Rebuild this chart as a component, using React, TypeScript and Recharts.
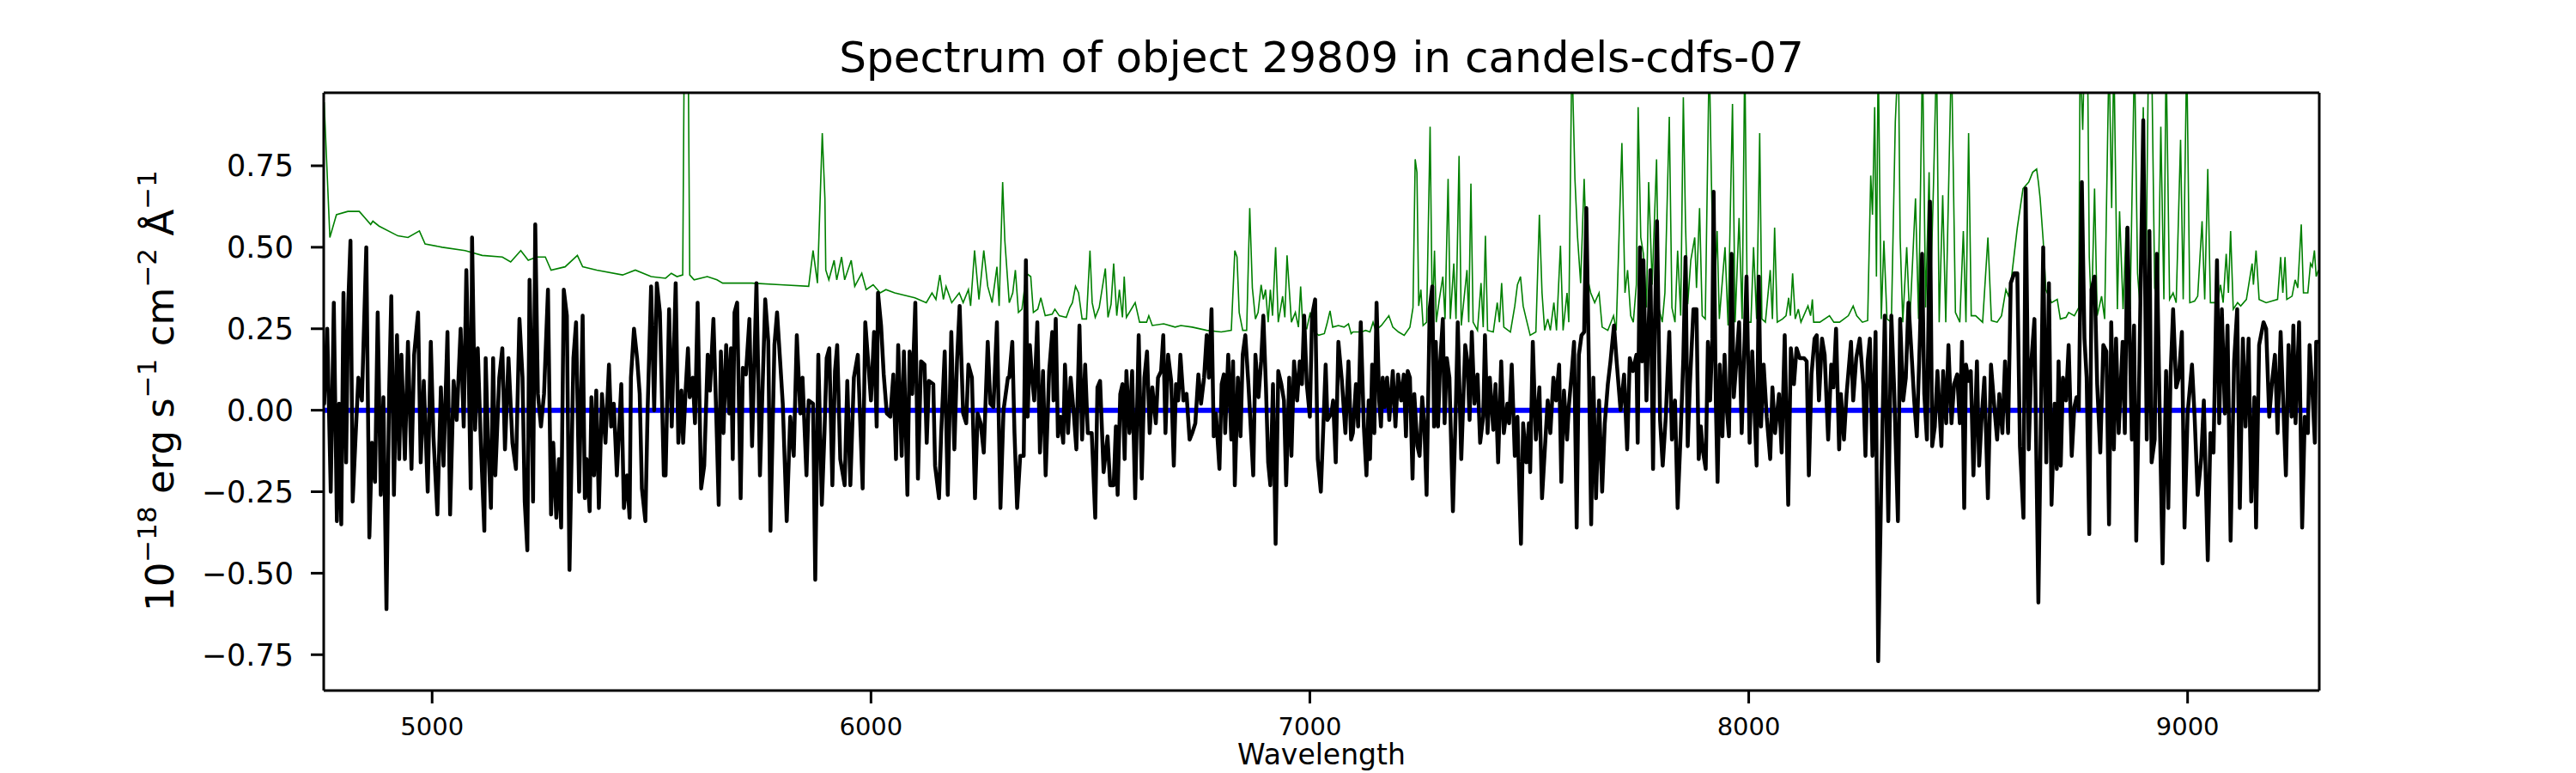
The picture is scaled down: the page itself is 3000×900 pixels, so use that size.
import { LineChart, Line, XAxis, YAxis, ReferenceLine } from "recharts";

const TITLE = "Spectrum of object 29809 in candels-cdfs-07";
const X_LABEL = "Wavelength";

const X_DOMAIN = [4753, 9300];
const Y_DOMAIN = [-0.86, 0.974];
const xTicks = [5000, 6000, 7000, 8000, 9000];
const yTicks = [-0.75, -0.5, -0.25, 0, 0.25, 0.5, 0.75];

// observed 1D spectrum (black)
const fluxWave = [
  4753, 4754, 4761, 4769, 4776, 4783, 4788, 4793, 4798, 4804, 4809, 4814, 4819, 4826, 4832, 4840, 4850, 4857, 4863, 4870,
  4876, 4883, 4889, 4896, 4902, 4907, 4913, 4920, 4925, 4930, 4938, 4945, 4953, 4959, 4968, 4974, 4981, 4990, 4997, 5003,
  5012, 5020, 5026, 5035, 5041, 5049, 5056, 5065, 5072, 5078, 5083, 5088, 5091, 5098, 5104, 5111, 5119, 5122, 5127, 5134,
  5139, 5144, 5153, 5160, 5166, 5174, 5183, 5191, 5199, 5206, 5211, 5217, 5222, 5225, 5230, 5235, 5241, 5248, 5255, 5264,
  5271, 5276, 5283, 5289, 5294, 5300, 5307, 5313, 5317, 5322, 5328, 5335, 5343, 5348, 5352, 5359, 5363, 5369, 5374, 5380,
  5387, 5395, 5403, 5408, 5414, 5421, 5431, 5437, 5444, 5450, 5453, 5460, 5467, 5473, 5478, 5486, 5491, 5499, 5506, 5512,
  5519, 5528,
  5532, 5540, 5546, 5555, 5561, 5568, 5572, 5578, 5583, 5587, 5594, 5599, 5605, 5613, 5620, 5628, 5633, 5641, 5648, 5653,
  5658, 5664, 5670, 5677, 5681, 5685, 5689, 5695, 5703, 5708, 5715, 5723, 5729, 5739, 5744, 5747, 5759, 5766, 5771, 5780,
  5786, 5793, 5799, 5808, 5816, 5824, 5831, 5839, 5844, 5853, 5858, 5868, 5873, 5880, 5888, 5894, 5899, 5905, 5912, 5918,
  5923, 5930, 5940, 5946, 5953, 5961, 5970, 5981, 5987, 5993, 6000, 6007, 6013, 6016, 6023, 6029, 6036, 6044, 6051, 6057,
  6062, 6070, 6075, 6083, 6088, 6094, 6101, 6107, 6114, 6122, 6127, 6132, 6142, 6146, 6155, 6160, 6168, 6175, 6183, 6190,
  6196, 6202, 6210, 6217, 6222, 6230, 6237, 6243, 6250, 6257, 6266, 6272, 6279, 6287, 6295, 6302, 6312,
  6315, 6322, 6327, 6333, 6340, 6348, 6353, 6357, 6362, 6367, 6372, 6379, 6385, 6392, 6398, 6406, 6413, 6416, 6421, 6426,
  6432, 6438, 6442, 6449, 6455, 6462, 6468, 6475, 6481, 6488, 6494, 6503, 6511, 6516, 6522, 6530, 6539, 6545, 6553, 6558,
  6562, 6568, 6573, 6578, 6582, 6589, 6595, 6602, 6610, 6617, 6623, 6629, 6635, 6641, 6649, 6654, 6661, 6666, 6671, 6677,
  6684, 6690, 6695, 6700, 6705, 6712, 6719, 6726, 6732, 6739, 6746, 6752, 6759, 6765, 6770, 6776, 6781, 6786, 6794, 6799,
  6804, 6807, 6814, 6821, 6825, 6829, 6836, 6842, 6847, 6853, 6860, 6864, 6871, 6876, 6883, 6889, 6894, 6900, 6905, 6910,
  6916, 6922, 6928, 6935, 6941, 6946, 6953, 6958, 6964, 6971, 6977, 6982, 6987, 6993, 7000, 7005, 7012, 7018, 7025, 7031,
  7036, 7040, 7049, 7053, 7059, 7065, 7073, 7081, 7088, 7094,
  7098, 7105, 7110, 7116, 7123, 7129, 7134, 7137, 7142, 7147, 7152, 7158, 7162, 7166, 7171, 7176, 7181, 7189, 7195, 7201,
  7208, 7214, 7219, 7223, 7228, 7234, 7238, 7245, 7250, 7256, 7261, 7266, 7273, 7279, 7283, 7287, 7292, 7297, 7303, 7307,
  7312, 7318, 7326, 7333, 7337, 7345, 7354, 7359, 7364, 7369, 7375, 7382, 7388, 7395, 7399, 7405, 7410, 7418, 7423, 7429,
  7436, 7442, 7450, 7454, 7460, 7467, 7473, 7476, 7481, 7486, 7493, 7499, 7502, 7508, 7515, 7523, 7529, 7535, 7542, 7548,
  7555, 7561, 7568, 7573, 7579, 7586, 7590, 7597, 7602, 7608, 7613, 7619, 7625, 7630, 7636, 7641, 7646, 7652, 7659, 7666,
  7672, 7679, 7685, 7693, 7699, 7708, 7716, 7723, 7729, 7736, 7744, 7747, 7752, 7757, 7760, 7767, 7770, 7776, 7782, 7786,
  7791, 7798, 7804, 7811, 7819, 7825, 7832, 7838, 7845, 7851, 7856, 7861, 7866, 7874,
  7881, 7886, 7891, 7895, 7902, 7907, 7912, 7917, 7920, 7925, 7929, 7934, 7940, 7945, 7949, 7955, 7961, 7966, 7972, 7978,
  7984, 7989, 7995, 8002, 8008, 8018, 8023, 8028, 8034, 8041, 8049, 8054, 8060, 8069, 8075, 8082, 8090, 8096, 8103, 8109,
  8116, 8126, 8132, 8137, 8143, 8150, 8155, 8160, 8167, 8173, 8181, 8188, 8193, 8199, 8206, 8210, 8217, 8223, 8233, 8238,
  8245, 8253, 8261, 8266, 8271, 8276, 8282, 8289, 8295, 8302, 8310, 8318, 8325, 8331, 8340, 8345, 8352, 8358, 8364, 8372,
  8377, 8383, 8390, 8395, 8400, 8406, 8413, 8418, 8424, 8430, 8439, 8443, 8450, 8455, 8462, 8468, 8475, 8481, 8486, 8491,
  8495, 8501, 8506, 8512, 8520, 8525, 8530, 8537, 8545, 8552, 8559, 8566, 8571, 8578, 8584, 8591, 8597, 8605, 8612, 8618,
  8626, 8631, 8638, 8644, 8651, 8660,
  8671, 8678, 8684, 8690, 8697, 8702, 8706, 8711, 8716, 8723, 8729, 8736, 8742, 8747, 8752, 8759, 8765, 8770, 8776, 8781,
  8788, 8794, 8801, 8808, 8815, 8821, 8826, 8832, 8837, 8843, 8852, 8857, 8863, 8873, 8878, 8883, 8889, 8899, 8907, 8913,
  8918, 8925, 8930, 8937, 8943, 8951, 8956, 8961, 8967, 8974, 8980, 8987, 8993, 9000, 9010, 9016, 9023, 9031, 9037, 9046,
  9052, 9059, 9067, 9072, 9078, 9085, 9091, 9098, 9106, 9113, 9119, 9126, 9132, 9139, 9145, 9152, 9156, 9163, 9173, 9179,
  9186, 9192, 9199, 9205, 9212, 9224, 9230, 9237, 9241, 9246, 9254, 9261, 9267, 9274, 9278, 9285, 9290, 9293, 9298,
];
const fluxValue = [
  0.05, 0.02, 0.25, -0.25, 0.33, -0.34, 0.02, -0.35, 0.36, -0.16, 0.33, 0.52, -0.28, -0.07, 0.1, 0.03, 0.5, -0.39, -0.1, -0.22,
  0.3, -0.26, 0.04, -0.61, 0.05, 0.35, -0.26, 0.23, -0.15, 0.17, -0.15, 0.21, -0.18, 0.17, 0.3, -0.16, 0.09, -0.25, 0.21, -0.08,
  -0.32, 0.07, -0.17, 0.24, -0.32, 0.09, -0.03, 0.25, -0.05, 0.43, 0.14, -0.24, 0.53, -0.06, 0.19, -0.1, -0.37, 0.16, -0.08, -0.3,
  0.16, -0.2, 0.1, 0.19, -0.12, 0.16, -0.1, -0.18, 0.28, 0.1, -0.28, -0.43, 0.4, 0.2, -0.28, 0.57, 0.05, -0.05, 0.05, 0.37,
  -0.32, -0.1, -0.33, -0.15, -0.36, 0.37, 0.29, -0.49, -0.2, 0.16, 0.27, -0.25, 0.29, -0.27, -0.15, -0.31, 0.04, -0.2, 0.06, -0.3,
  0.05, -0.1, 0.14, -0.05, 0.02, -0.2, 0.08, -0.3, -0.2, -0.33, 0.1, 0.25, 0.16, 0.05, -0.24, -0.34, 0.0, 0.38, 0.0, 0.39,
  0.3, -0.2,
  -0.2, 0.31, -0.05, 0.39, -0.1, 0.06, -0.1, 0.07, 0.19, 0.04, 0.1, -0.04, 0.33, -0.24, -0.17, 0.17, 0.06, 0.28, -0.04, -0.29,
  0.18, -0.07, 0.2, -0.01, 0.19, -0.15, 0.3, 0.33, -0.27, 0.13, 0.11, 0.28, -0.11, 0.39, 0.05, -0.2, 0.34, 0.21, -0.37, 0.2,
  0.3, 0.15, 0.02, -0.34, -0.02, -0.14, 0.23, -0.01, 0.1, -0.2, 0.03, 0.02, -0.52, 0.17, -0.29, -0.07, 0.16, 0.19, -0.23, 0.12,
  0.2, -0.15, -0.23, 0.09, -0.23, 0.1, 0.17, -0.24, 0.27, 0.16, 0.03, 0.24, -0.05, 0.36, 0.26, 0.11, -0.01, -0.02, 0.11, -0.15,
  0.2, -0.14, 0.18, -0.26, 0.18, 0.05, 0.33, -0.21, 0.15, 0.14, -0.1, 0.09, 0.08, -0.17, -0.27, -0.07, 0.18, -0.26, 0.24, -0.12,
  0.15, 0.32, -0.01, -0.04, 0.14, 0.1, -0.27, -0.01, -0.04, -0.13, 0.21, 0.02, 0.01, 0.27, -0.3, 0.0, 0.1,
  0.1, 0.21, -0.07, -0.3, -0.14, -0.14, 0.46, -0.02, 0.2, 0.1, 0.03, 0.27, -0.13, 0.12, -0.2, 0.12, 0.24, 0.03, 0.28, -0.08,
  -0.02, -0.1, 0.14, -0.07, 0.1, -0.01, -0.12, 0.26, -0.09, 0.14, -0.07, -0.07, -0.33, 0.07, 0.09, -0.19, -0.08, -0.23, -0.23, -0.05,
  -0.26, 0.05, 0.08, -0.15, 0.12, -0.07, 0.12, -0.27, 0.23, -0.21, 0.1, 0.18, -0.07, 0.07, -0.04, 0.1, 0.12, 0.23, -0.07, 0.17,
  0.09, -0.17, 0.08, 0.03, 0.17, 0.03, 0.05, -0.09, -0.07, -0.04, 0.11, 0.02, 0.1, 0.23, 0.1, 0.31, -0.08, -0.01, -0.18, 0.08,
  0.11, -0.07, 0.17, -0.09, 0.15, -0.23, 0.1, -0.08, 0.17, 0.23, 0.08, -0.02, -0.2, 0.17, 0.04, 0.15, 0.29, 0.07, -0.16, -0.23,
  0.08, -0.41, 0.12, 0.08, 0.03, -0.23, 0.1, -0.14, 0.15, 0.03, 0.15, 0.08, 0.29, 0.08, -0.02, 0.29, 0.34, -0.15, -0.25, -0.04,
  0.14, -0.03, -0.01, 0.03, -0.16, 0.21, 0.09, -0.07, 0.15, -0.09,
  -0.07, 0.08, -0.05, 0.27, -0.05, -0.2, 0.03, -0.15, 0.14, -0.07, 0.33, 0.03, -0.05, 0.1, 0.01, 0.1, -0.03, 0.12, -0.05, 0.11,
  0.03, 0.11, -0.08, 0.12, 0.1, -0.21, 0.05, -0.11, -0.14, 0.04, -0.05, -0.26, 0.31, 0.38, -0.05, 0.21, -0.05, 0.15, 0.28, -0.04,
  0.16, 0.1, -0.31, 0.03, 0.27, -0.15, 0.2, 0.15, -0.03, 0.24, 0.02, 0.11, -0.1, -0.02, 0.23, -0.07, 0.1, -0.06, 0.08, -0.16,
  0.15, -0.07, 0.02, -0.04, 0.14, -0.14, -0.02, -0.18, -0.41, -0.04, -0.16, -0.04, -0.19, 0.21, -0.09, 0.07, -0.27, -0.13, 0.03, -0.07,
  0.1, 0.03, 0.14, -0.22, 0.06, -0.09, 0.01, 0.12, 0.21, -0.36, 0.17, 0.23, 0.24, 0.62, 0.12, -0.35, 0.1, -0.27, 0.03, -0.25,
  -0.04, 0.08, 0.15, 0.26, 0.15, 0.0, 0.11, -0.12, 0.16, 0.12, 0.17, -0.1, 0.5, 0.15, 0.46, 0.03, 0.18, 0.43, -0.18, 0.26,
  0.58, -0.03, -0.17, -0.02, 0.24, -0.09, 0.03, -0.3, -0.07, 0.16, 0.47, -0.11, 0.08, 0.31,
  0.31, -0.15, -0.05, -0.12, -0.18, 0.21, 0.03, 0.22, 0.67, 0.03, -0.22, 0.14, -0.08, 0.17, 0.02, -0.08, 0.48, 0.04, 0.15, 0.27,
  -0.07, 0.15, 0.41, -0.1, 0.18, -0.17, 0.41, -0.05, 0.14, -0.02, -0.15, 0.07, -0.07, 0.05, -0.13, 0.23, -0.29, 0.19, 0.08, 0.19,
  0.16, 0.16, 0.15, -0.2, 0.11, 0.22, 0.23, 0.03, 0.22, 0.17, -0.09, 0.14, 0.07, 0.25, -0.12, 0.05, -0.09, 0.05, 0.21, 0.03,
  0.16, 0.22, 0.08, -0.14, 0.15, 0.22, -0.14, 0.24, -0.77, -0.22, 0.29, -0.34, 0.29, 0.08, -0.34, 0.28, 0.03, 0.1, 0.33, 0.15,
  0.03, -0.08, 0.22, 0.48, 0.05, -0.09, 0.64, -0.11, -0.05, 0.12, -0.11, 0.12, -0.04, 0.2, -0.04, 0.08, 0.11, -0.04, 0.21, -0.3,
  0.14, 0.09, 0.12, -0.2, 0.15, -0.17, -0.04, 0.1, -0.27, 0.14, 0.02, -0.09, 0.05, -0.07, 0.15, -0.07, 0.39, 0.42, 0.42, -0.11,
  -0.33, 0.68, -0.12, 0.15, 0.28, -0.59,
  0.5, -0.16, 0.39, -0.29, 0.02, -0.18, 0.15, -0.17, 0.1, 0.03, 0.2, -0.14, 0.01, 0.04, 0.0, 0.7, 0.22, 0.1, -0.38, 0.37,
  0.41, 0.08, -0.13, 0.2, 0.18, -0.35, 0.27, -0.12, 0.22, -0.07, 0.21, -0.07, 0.56, -0.09, 0.26, -0.4, 0.04, 0.89, -0.09, 0.55,
  -0.16, -0.09, 0.48, -0.05, -0.47, 0.12, -0.3, 0.1, 0.31, 0.07, 0.1, 0.24, -0.36, -0.01, 0.14, -0.02, -0.26, -0.15, 0.03, -0.46,
  -0.07, -0.13, 0.46, -0.04, 0.31, -0.01, 0.26, -0.4, 0.15, 0.31, -0.3, 0.22, -0.05, 0.22, -0.28, 0.04, -0.36, 0.2, 0.27, 0.25,
  -0.02, 0.08, 0.17, -0.07, 0.24, -0.2, 0.2, -0.02, 0.26, -0.04, 0.27, -0.36, -0.02, -0.07, 0.2, 0.04, -0.1, 0.21, 0.21,
];

// noise / sky spectrum (green)
const skyWave = [
  4754, 4767, 4782, 4808, 4834, 4860, 4865, 4879, 4922, 4945, 4971, 4984, 5023, 5075, 5114, 5160, 5179, 5202, 5219, 5238,
  5258, 5271, 5303, 5331, 5343, 5375, 5434, 5463, 5499, 5532,
  5545, 5558, 5571, 5576, 5582, 5587, 5597, 5627, 5649, 5662, 5728, 5793, 5858, 5868, 5878, 5889, 5895, 5897, 5904, 5916,
  5922, 5933, 5940, 5955, 5963, 5979, 5989, 6005, 6021, 6034, 6054, 6100, 6126, 6139, 6148, 6157, 6165, 6171, 6184, 6201,
  6210, 6222, 6227, 6236, 6246, 6257, 6266, 6276, 6287, 6292, 6300, 6305, 6315,
  6323, 6329, 6336, 6344, 6354, 6364, 6370, 6380, 6387, 6397, 6413, 6419, 6429, 6445, 6453, 6459, 6466, 6473, 6481, 6491,
  6499, 6504, 6511, 6520, 6534, 6540, 6547, 6553, 6560, 6566, 6573, 6577, 6582, 6602, 6612, 6628, 6633, 6641, 6667, 6693,
  6706, 6732, 6765, 6798, 6821, 6829, 6834, 6839, 6847, 6856, 6863, 6869, 6876, 6882, 6889, 6894, 6899, 6905, 6910, 6915,
  6922, 6928, 6938, 6943, 6948, 6958, 6967, 6974, 6979, 6984, 6993, 7001, 7006, 7020, 7033, 7039, 7046, 7052, 7065, 7078,
  7088, 7094,
  7098, 7118, 7127, 7137, 7144, 7150, 7163, 7180, 7189, 7202, 7215, 7228, 7235, 7240, 7244, 7248, 7253, 7258, 7266, 7274,
  7279, 7284, 7288, 7295, 7303, 7308, 7315, 7320, 7328, 7333, 7340, 7345, 7358, 7362, 7367, 7372, 7382, 7390, 7395, 7400,
  7405, 7418, 7427, 7432, 7437, 7442, 7457, 7467, 7473, 7480, 7486, 7493, 7502, 7515, 7523, 7529, 7535, 7542, 7548, 7556,
  7562, 7571, 7577, 7586, 7590, 7597, 7604, 7610, 7617, 7625, 7632, 7640, 7649, 7659, 7666, 7679, 7692, 7698, 7711, 7718,
  7724, 7731, 7737, 7744, 7748, 7754, 7760, 7767, 7772, 7780, 7790, 7795, 7803, 7809, 7819, 7825, 7832, 7838, 7845, 7851,
  7856, 7861, 7868, 7877,
  7881, 7888, 7894, 7901, 7910, 7915, 7921, 7928, 7933, 7946, 7953, 7963, 7969, 7978, 7985, 7991, 7997, 8005, 8011, 8018,
  8025, 8030, 8038, 8049, 8054, 8059, 8065, 8077, 8085, 8091, 8095, 8100, 8106, 8113, 8119, 8135, 8141, 8145, 8148, 8162,
  8184, 8194, 8207, 8227, 8238, 8246, 8259, 8271, 8278, 8282, 8287, 8291, 8295, 8302, 8308, 8315, 8325, 8334, 8341, 8345,
  8351, 8360, 8367, 8380, 8387, 8396, 8403, 8411, 8415, 8421, 8428, 8434, 8442, 8449, 8462, 8471, 8481, 8489, 8495, 8501,
  8507, 8517, 8533, 8545, 8553, 8566, 8576, 8586, 8592, 8599, 8612, 8625, 8638, 8647, 8656, 8660,
  8664, 8671, 8677, 8690, 8703, 8710, 8723, 8729, 8742, 8752, 8755, 8761, 8765, 8772, 8776, 8781, 8788, 8794, 8804, 8811,
  8821, 8827, 8832, 8840, 8845, 8853, 8860, 8869, 8879, 8886, 8892, 8899, 8905, 8911, 8918, 8925, 8933, 8939, 8946, 8951,
  8959, 8967, 8974, 8984, 8990, 8998, 9005, 9016, 9023, 9033, 9039, 9046, 9052, 9068, 9075, 9081, 9088, 9093, 9098, 9104,
  9114, 9121, 9134, 9147, 9150, 9156, 9163, 9179, 9192, 9205, 9212, 9217, 9222, 9226, 9238, 9245, 9251, 9259, 9264, 9274,
  9280, 9284, 9289, 9293, 9298,
];
const skyValue = [
  0.945, 0.53, 0.6, 0.61, 0.61, 0.57, 0.58, 0.565, 0.535, 0.53, 0.55, 0.51, 0.5, 0.49, 0.475, 0.47, 0.455, 0.49, 0.46, 0.47,
  0.47, 0.43, 0.44, 0.475, 0.44, 0.43, 0.415, 0.43, 0.41, 0.405,
  0.42, 0.41, 0.415, 1.4, 1.4, 0.415, 0.4, 0.41, 0.4, 0.39, 0.39, 0.385, 0.38, 0.49, 0.39, 0.85, 0.65, 0.43, 0.4, 0.46,
  0.4, 0.47, 0.4, 0.46, 0.38, 0.42, 0.37, 0.385, 0.36, 0.37, 0.36, 0.345, 0.33, 0.36, 0.34, 0.415, 0.34, 0.38, 0.33, 0.36,
  0.33, 0.37, 0.32, 0.49, 0.34, 0.49, 0.38, 0.33, 0.44, 0.32, 0.7, 0.52, 0.33,
  0.36, 0.43, 0.3, 0.31, 0.42, 0.41, 0.3, 0.31, 0.345, 0.29, 0.295, 0.31, 0.29, 0.285, 0.315, 0.33, 0.38, 0.36, 0.28, 0.28,
  0.49, 0.33, 0.285, 0.315, 0.435, 0.285, 0.325, 0.45, 0.29, 0.37, 0.285, 0.41, 0.285, 0.33, 0.27, 0.27, 0.29, 0.26, 0.265, 0.255,
  0.26, 0.255, 0.245, 0.24, 0.245, 0.49, 0.47, 0.3, 0.245, 0.245, 0.62, 0.375, 0.28, 0.3, 0.385, 0.34, 0.37, 0.27, 0.37, 0.29,
  0.5, 0.27, 0.35, 0.285, 0.475, 0.27, 0.3, 0.255, 0.38, 0.255, 0.25, 0.3, 0.245, 0.23, 0.235, 0.265, 0.305, 0.255, 0.26, 0.255,
  0.265, 0.235,
  0.24, 0.24, 0.245, 0.24, 0.27, 0.245, 0.26, 0.29, 0.255, 0.24, 0.23, 0.255, 0.315, 0.77, 0.73, 0.32, 0.37, 0.26, 0.27, 0.87,
  0.28, 0.49, 0.27, 0.34, 0.41, 0.28, 0.71, 0.28, 0.45, 0.28, 0.78, 0.26, 0.43, 0.27, 0.695, 0.27, 0.245, 0.39, 0.255, 0.535,
  0.245, 0.24, 0.33, 0.27, 0.39, 0.255, 0.24, 0.32, 0.385, 0.41, 0.32, 0.28, 0.23, 0.24, 0.6, 0.36, 0.245, 0.28, 0.245, 0.33,
  0.245, 0.505, 0.245, 0.36, 0.27, 1.1, 0.71, 0.53, 0.39, 0.71, 0.41, 0.36, 0.33, 0.36, 0.255, 0.245, 0.29, 0.245, 0.82, 0.36,
  0.43, 0.29, 0.27, 0.385, 0.93, 0.53, 0.48, 0.315, 0.7, 0.385, 0.77, 0.315, 0.27, 0.36, 0.9, 0.315, 0.27, 0.49, 0.29, 0.96,
  0.57, 0.325, 0.46, 0.53,
  0.375, 0.62, 0.29, 0.28, 1.1, 0.7, 0.34, 0.55, 0.28, 0.5, 0.26, 0.94, 0.27, 0.59, 0.28, 1.1, 0.27, 0.27, 0.5, 0.28,
  0.85, 0.28, 0.27, 0.43, 0.28, 0.56, 0.27, 0.28, 0.29, 0.345, 0.29, 0.42, 0.28, 0.31, 0.27, 0.32, 0.29, 0.34, 0.27, 0.27,
  0.29, 0.27, 0.27, 0.29, 0.32, 0.29, 0.27, 0.275, 0.72, 0.6, 0.93, 0.41, 1.1, 0.28, 0.52, 0.28, 0.27, 0.885, 1.1, 0.53,
  0.27, 0.5, 0.27, 0.65, 0.28, 1.1, 0.315, 0.73, 0.39, 0.69, 1.1, 0.27, 0.66, 0.27, 1.1, 0.3, 0.27, 0.55, 0.27, 0.85,
  0.29, 0.29, 0.27, 0.53, 0.275, 0.27, 0.29, 0.37, 0.35, 0.41, 0.56, 0.68, 0.7, 0.73, 0.74, 0.7,
  0.65, 0.52, 0.37, 0.33, 0.34, 0.28, 0.285, 0.3, 0.29, 0.315, 1.1, 0.86, 1.1, 1.1, 0.47, 0.29, 0.68, 0.29, 0.35, 0.28,
  1.1, 0.62, 1.1, 0.31, 0.61, 0.31, 0.56, 0.31, 1.1, 0.42, 0.31, 0.93, 0.385, 1.1, 1.1, 0.375, 0.33, 0.87, 0.34, 1.1,
  0.34, 0.36, 0.33, 0.83, 0.34, 1.1, 0.33, 0.335, 0.35, 0.58, 0.34, 0.74, 0.33, 0.33, 0.385, 0.33, 0.48, 0.36, 0.55, 0.31,
  0.33, 0.32, 0.34, 0.45, 0.385, 0.49, 0.34, 0.33, 0.335, 0.34, 0.47, 0.36, 0.47, 0.34, 0.35, 0.4, 0.375, 0.57, 0.36, 0.36,
  0.45, 0.44, 0.49, 0.41, 0.43,
];

// best-fit model (blue), flat at zero
const modelWave = [4755, 9272];
const modelValue = [0, 0];

const fluxData = fluxWave.map((w, i) => ({ w, f: fluxValue[i] }));
const skyData = skyWave.map((w, i) => ({ w, f: skyValue[i] }));
const modelData = modelWave.map((w, i) => ({ w, f: modelValue[i] }));

const FONT = "'DejaVu Sans', sans-serif";
const W = 3000;
const H = 900;
const PLOT = { left: 377, right: 2701, top: 108, bottom: 804 };

const fmtY = (v: number) => (v < 0 ? "\u2212" : "") + Math.abs(v).toFixed(2);

export default function App() {
  const yAxisWidth = 100;
  const xAxisHeight = 60;
  const sup = -20;
  return (
    <div style={{ position: "absolute", left: 0, top: 0, width: W, height: H, background: "#fff" }}>
      <LineChart
        width={W}
        height={H}
        margin={{
          top: PLOT.top,
          right: W - PLOT.right,
          bottom: H - PLOT.bottom - xAxisHeight,
          left: PLOT.left - yAxisWidth,
        }}
      >
        <XAxis
          type="number"
          dataKey="w"
          domain={X_DOMAIN}
          ticks={xTicks}
          allowDataOverflow
          height={xAxisHeight}
          tickSize={15}
          tickMargin={16}
          axisLine={{ stroke: "#000", strokeWidth: 3 }}
          tickLine={{ stroke: "#000", strokeWidth: 3 }}
          tick={{ fontSize: 29, fill: "#000", fontFamily: FONT }}
        />
        <YAxis
          type="number"
          dataKey="f"
          domain={Y_DOMAIN}
          ticks={yTicks}
          allowDataOverflow
          width={yAxisWidth}
          tickSize={15}
          tickMargin={20}
          tickFormatter={fmtY}
          axisLine={{ stroke: "#000", strokeWidth: 3 }}
          tickLine={{ stroke: "#000", strokeWidth: 3 }}
          tick={{ fontSize: 35, fill: "#000", fontFamily: FONT }}
        />
        <Line
          data={skyData}
          dataKey="f"
          type="linear"
          stroke="#008000"
          strokeWidth={1.6}
          dot={false}
          activeDot={false}
          isAnimationActive={false}
        />
        <Line
          data={modelData}
          dataKey="f"
          type="linear"
          stroke="#0000ff"
          strokeWidth={6}
          dot={false}
          activeDot={false}
          isAnimationActive={false}
        />
        <Line
          data={fluxData}
          dataKey="f"
          type="linear"
          stroke="#000000"
          strokeWidth={4.5}
          strokeLinejoin="round"
          dot={false}
          activeDot={false}
          isAnimationActive={false}
        />
        {/* top and right spines of the axes box */}
        <ReferenceLine y={Y_DOMAIN[1]} stroke="#000" strokeWidth={3} />
        <ReferenceLine x={X_DOMAIN[1]} stroke="#000" strokeWidth={3} />
      </LineChart>
      <svg
        width={W}
        height={H}
        style={{ position: "absolute", left: 0, top: 0, pointerEvents: "none" }}
        fontFamily={FONT}
      >
        <text x={(PLOT.left + PLOT.right) / 2} y={84} textAnchor="middle" fontSize={50} fill="#000">
          {TITLE}
        </text>
        <text x={(PLOT.left + PLOT.right) / 2} y={890} textAnchor="middle" fontSize={33} fill="#000">
          {X_LABEL}
        </text>
        <text
          transform="translate(202, 455) rotate(-90)"
          textAnchor="middle"
          fontSize={45}
          fill="#000"
        >
          <tspan>10</tspan>
          <tspan fontSize={31} dy={sup}>{"\u221218"}</tspan>
          <tspan dy={-sup}>{" erg s"}</tspan>
          <tspan fontSize={31} dy={sup}>{"\u22121"}</tspan>
          <tspan dy={-sup}>{" cm"}</tspan>
          <tspan fontSize={31} dy={sup}>{"\u22122"}</tspan>
          <tspan dy={-sup}>{" \u00c5"}</tspan>
          <tspan fontSize={31} dy={sup}>{"\u22121"}</tspan>
        </text>
      </svg>
    </div>
  );
}
